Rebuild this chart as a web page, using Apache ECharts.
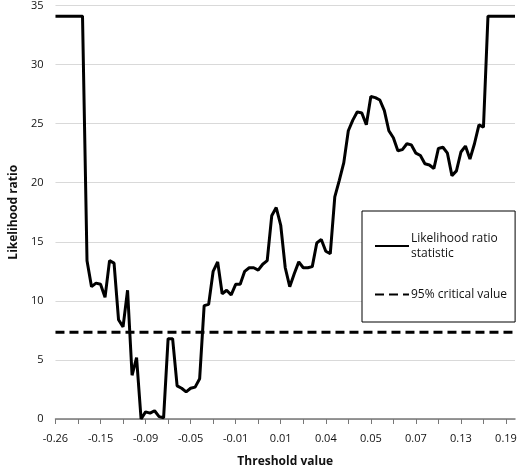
<!DOCTYPE html>
<html><head><meta charset="utf-8">
<script src="https://cdn.jsdelivr.net/npm/echarts@6/dist/echarts.min.js"></script>
<style>html,body{margin:0;padding:0;background:#fff}#c{width:520px;height:473px}</style>
</head><body><div id="c"></div>
<script>
const tickLabels = ['-0.26','-0.15','-0.09','-0.05','-0.01','0.01','0.04','0.05','0.07','0.13','0.19'];
const lrStat = [34.1,34.1,34.1,34.1,34.1,34.1,34.1,
13.4,11.2,11.5,11.4,10.3,13.4,13.2,8.4,7.8,10.9,3.7,5.2,0,0.6,0.5,0.7,0.2,0.1,
6.8,6.8,2.8,2.6,2.3,2.6,2.7,3.4,9.6,9.7,12.5,13.3,10.6,10.9,10.5,11.4,11.4,12.5,
12.8,12.8,12.6,13.1,13.4,17.2,17.9,16.4,12.8,11.2,12.3,13.3,12.8,12.8,12.9,14.9,
15.2,14.2,14.0,18.8,20.2,21.7,24.4,25.3,26.0,25.9,24.9,27.3,27.2,27.0,26.1,24.4,
23.8,22.7,22.8,23.3,23.2,22.5,22.3,21.6,21.5,21.2,22.9,23.0,22.5,20.6,21.0,22.6,
23.1,22.0,23.3,24.9,24.7,
34.1,34.1,34.1,34.1,34.1,34.1,34.1];
const criticalValue = 7.35;
const categories = lrStat.map((_, i) => String(i));
const critLine = lrStat.map(() => criticalValue);

const chart = echarts.init(document.getElementById('c'));
const font = 'Open Sans';
chart.setOption({
  animation: false,
  textStyle: {fontFamily: font},
  grid: {left: 44, right: 5, top: 5, bottom: 54},
  legend: {
    orient: 'vertical', left: 362, top: 211, width: 141, height: 93,
    padding: [20, 8, 20, 12], itemGap: 26,
    borderColor: '#000', borderWidth: 1, backgroundColor: '#fff',
    itemWidth: 34, itemHeight: 10,
    itemStyle: {opacity: 0},
    textStyle: {fontFamily: font, fontSize: 12, color: '#111', padding: [0,0,0,-3], lineHeight: 15},
    data: ['Likelihood ratio\nstatistic', '95% critical value']
  },
  xAxis: {
    type: 'category', data: categories, boundaryGap: false,
    name: 'Threshold value', nameLocation: 'middle', nameGap: 37,
    nameTextStyle: {fontWeight: 'bold', fontSize: 12, color: '#111', fontFamily: font},
    axisLine: {lineStyle: {color: '#777', width: 1.5}},
    axisTick: {interval: 4, length: 5, lineStyle: {color: '#777'}},
    axisLabel: {interval: 9, margin: 14, fontSize: 11, color: '#111',
      formatter: (v, idx) => idx % 10 === 0 ? tickLabels[idx / 10] : ''}
  },
  yAxis: {
    type: 'value', min: 0, max: 35, interval: 5,
    name: 'Likelihood ratio', nameLocation: 'middle', nameGap: 32,
    nameTextStyle: {fontWeight: 'bold', fontSize: 12, color: '#111', fontFamily: font},
    axisLine: {show: false}, axisTick: {show: false},
    axisLabel: {fontSize: 11, color: '#111', margin: 12},
    splitLine: {lineStyle: {color: '#d9d9d9', width: 1.2}}
  },
  series: [
    {name: 'Likelihood ratio\nstatistic', type: 'line', data: lrStat, symbol: 'none',
     lineStyle: {color: '#000', width: 3}, itemStyle: {color: '#000'}},
    {name: '95% critical value', type: 'line', data: critLine, symbol: 'none',
     lineStyle: {color: '#000', width: 3, type: [9, 5]}, itemStyle: {color: '#000'}}
  ]
});
</script></body></html>
